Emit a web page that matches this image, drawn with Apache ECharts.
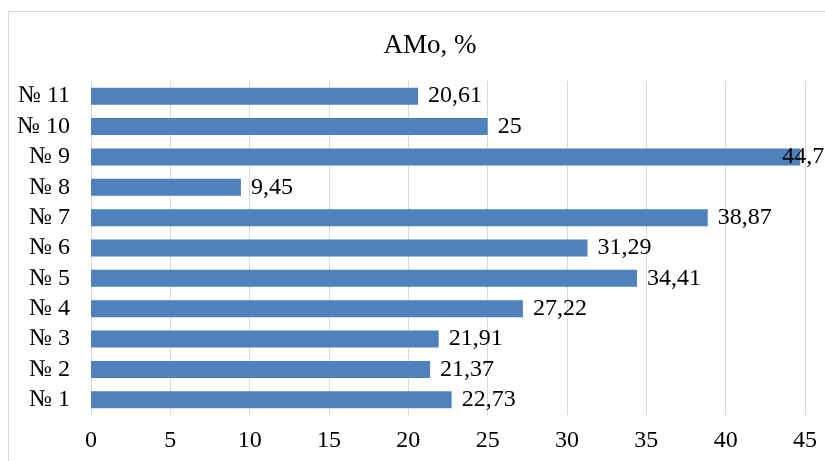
<!DOCTYPE html>
<html>
<head>
<meta charset="utf-8">
<style>
  html, body { margin: 0; padding: 0; background: #fff; }
  #chart { width: 825px; height: 461px; }
</style>
<script src="https://cdn.jsdelivr.net/npm/echarts@6/dist/echarts.min.js"></script>
</head>
<body>
<div id="chart"></div>
<script>
// Categories listed bottom to top
const categories = ['№ 1', '№ 2', '№ 3', '№ 4', '№ 5', '№ 6', '№ 7', '№ 8', '№ 9', '№ 10', '№ 11'];
const amoValues = [22.73, 21.37, 21.91, 27.22, 34.41, 31.29, 38.87, 9.45, 44.7, 25, 20.61];
const axisMin = 0;
const axisMax = 45;
const axisStep = 5;

const serif = '"Liberation Serif", "Times New Roman", serif';

const barData = amoValues.map(function (v) {
  const item = { value: v };
  // the largest value's label is pulled back so it stays inside the frame
  if (v === Math.max.apply(null, amoValues)) {
    item.label = { offset: [-28, 0] };
  }
  return item;
});

const chart = echarts.init(document.getElementById('chart'), null, { renderer: 'canvas' });
chart.setOption({
  animation: false,
  backgroundColor: '#fff',
  graphic: [{
    type: 'rect',
    shape: { x: 8.5, y: 11.5, width: 900, height: 600 },
    style: { fill: 'none', stroke: '#d9d9d9', lineWidth: 1 },
    silent: true,
    z: -1
  }],
  title: {
    text: 'AMo, %',
    left: 425,
    textAlign: 'center',
    top: 27,
    textStyle: { fontFamily: serif, fontSize: 27, fontWeight: 'normal', color: '#000' }
  },
  grid: { left: 91, right: 20, top: 81, bottom: 46, containLabel: false },
  xAxis: {
    type: 'value',
    min: axisMin,
    max: axisMax,
    interval: axisStep,
    axisLine: { show: false },
    axisTick: { show: false },
    splitLine: { show: true, lineStyle: { color: '#d9d9d9', width: 1 } },
    axisLabel: { margin: 14, fontFamily: serif, fontSize: 24, color: '#000' }
  },
  yAxis: {
    type: 'category',
    data: categories,
    axisLine: { show: false },
    axisTick: { show: false },
    axisLabel: { interval: 0, margin: 21, fontFamily: serif, fontSize: 24, color: '#000' }
  },
  series: [{
    type: 'bar',
    data: barData,
    barWidth: 17,
    itemStyle: { color: '#4f81bd' },
    label: {
      show: true,
      position: 'right',
      distance: 10,
      fontFamily: serif,
      fontSize: 24,
      color: '#000',
      formatter: function (p) { return String(p.value).replace('.', ','); }
    }
  }]
});
</script>
</body>
</html>
